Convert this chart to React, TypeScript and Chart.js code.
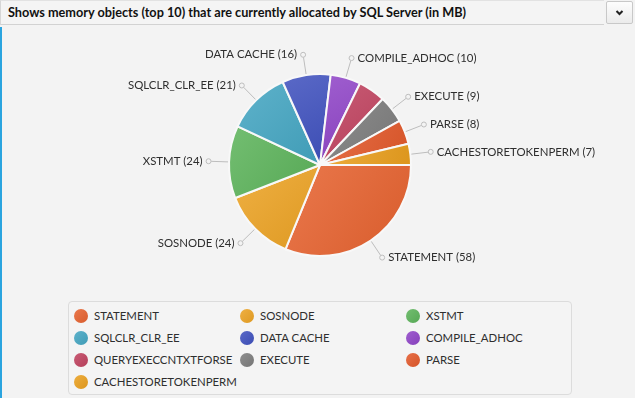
import React, { useEffect, useRef } from "react";
import { Chart, registerables } from "chart.js";

Chart.register(...registerables);

const title = "Shows memory objects (top 10) that are currently allocated by SQL Server (in MB)";
const categories = [
  "STATEMENT",
  "SOSNODE",
  "XSTMT",
  "SQLCLR_CLR_EE",
  "DATA CACHE",
  "COMPILE_ADHOC",
  "QUERYEXECCNTXTFORSE",
  "EXECUTE",
  "PARSE",
  "CACHESTORETOKENPERM",
];
const values = [58, 24, 24, 21, 16, 10, 9, 9, 8, 7];
const sliceColors = [
  "#e6622f",
  "#eca324",
  "#5cb35a",
  "#44a6c2",
  "#3f51be",
  "#8f44c7",
  "#c0425f",
  "#7c7c7c",
  "#e3592b",
  "#eaa01f",
];
const hiddenLabels = ["QUERYEXECCNTXTFORSE"];

const FONT = "Lato, 'Open Sans', 'DejaVu Sans', sans-serif";
const LABEL_SIZE = 11.4;

function mix(hex: string, target: string, t: number): string {
  const p = (h: string) => [1, 3, 5].map((k) => parseInt(h.slice(k, k + 2), 16));
  const a = p(hex);
  const b = p(target);
  const c = a.map((v, i) => Math.round(v + (b[i] - v) * t));
  return `rgb(${c[0]},${c[1]},${c[2]})`;
}

const outLabelPlugin = {
  id: "outLabels",
  beforeDatasetsDraw(chart: any) {
    const meta = chart.getDatasetMeta(0);
    const c = chart.ctx;
    meta.data.forEach((arc: any, i: number) => {
      const { x, y, startAngle, endAngle, outerRadius } = arc.getProps(
        ["x", "y", "startAngle", "endAngle", "outerRadius"],
        true
      );
      let minX = x, maxX = x, minY = y, maxY = y;
      for (let k = 0; k <= 24; k++) {
        const a = startAngle + ((endAngle - startAngle) * k) / 24;
        const px = x + outerRadius * Math.cos(a);
        const py = y + outerRadius * Math.sin(a);
        minX = Math.min(minX, px);
        maxX = Math.max(maxX, px);
        minY = Math.min(minY, py);
        maxY = Math.max(maxY, py);
      }
      const g = c.createLinearGradient(minX, minY, maxX, maxY);
      g.addColorStop(0, mix(sliceColors[i], "#ffffff", 0.14));
      g.addColorStop(1, mix(sliceColors[i], "#000000", 0.06));
      arc.options.backgroundColor = g;
    });
  },
  afterDatasetsDraw(chart: any) {
    const meta = chart.getDatasetMeta(0);
    const c = chart.ctx;
    c.save();
    meta.data.forEach((arc: any, i: number) => {
      const label = chart.data.labels[i];
      if (hiddenLabels.includes(label)) return;
      const { x, y, startAngle, endAngle, outerRadius } = arc.getProps(
        ["x", "y", "startAngle", "endAngle", "outerRadius"],
        true
      );
      const mid = (startAngle + endAngle) / 2;
      const cos = Math.cos(mid);
      const sin = Math.sin(mid);
      const r0 = outerRadius + 1;
      const r1 = outerRadius + 18;
      const r2 = outerRadius + 20.5;
      c.strokeStyle = "#bdbdbd";
      c.lineWidth = 1;
      c.beginPath();
      c.moveTo(x + r0 * cos, y + r0 * sin);
      c.lineTo(x + r1 * cos, y + r1 * sin);
      c.stroke();
      const dx = x + r2 * cos;
      const dy = y + r2 * sin;
      c.beginPath();
      c.arc(dx, dy, 2.5, 0, Math.PI * 2);
      c.fillStyle = "#f3f3f3";
      c.fill();
      c.stroke();
      c.fillStyle = "#2e2e2e";
      c.font = `${LABEL_SIZE}px ${FONT}`;
      c.textBaseline = "middle";
      const text = `${label} (${chart.data.datasets[0].data[i]})`;
      if (cos < 0) {
        c.textAlign = "right";
        c.fillText(text, dx - 6, dy);
      } else {
        c.textAlign = "left";
        c.fillText(text, dx + 6, dy);
      }
    });
    c.restore();
  },
};

export default function App() {
  const canvasRef = useRef<HTMLCanvasElement | null>(null);

  useEffect(() => {
    document.body.style.margin = "0";
    const canvas = canvasRef.current;
    if (!canvas) return;
    const chart = new Chart(canvas, {
      type: "pie",
      data: {
        labels: categories,
        datasets: [
          {
            data: values,
            backgroundColor: sliceColors,
            borderColor: "#f8f8f8",
            borderWidth: 2,
          },
        ],
      },
      options: {
        responsive: false,
        animation: false,
        rotation: 90,
        layout: { padding: { left: 228, right: 223, top: 72, bottom: 42 } },
        plugins: {
          legend: { display: false },
          tooltip: { enabled: false },
        },
      },
      plugins: [outLabelPlugin],
    });
    return () => chart.destroy();
  }, []);

  const colW = 166;
  const rowH = 22;

  return (
    <div
      style={{
        position: "fixed",
        left: 0,
        top: 0,
        width: 635,
        height: 398,
        background: "#f3f3f3",
        overflow: "hidden",
        fontFamily: FONT,
      }}
    >
      <div
        style={{
          position: "absolute",
          left: 0,
          top: 0,
          width: 604,
          height: 25,
          borderTop: "1px solid #e2e2e2",
          borderBottom: "1px solid #d2d2d2",
          borderLeft: "1px solid #d6d6d6",
          boxSizing: "border-box",
          background: "#f4f4f4",
        }}
      >
        <div
          style={{
            position: "absolute",
            left: 7,
            top: 3,
            fontSize: 12.7,
            fontWeight: 700,
            color: "#111",
            whiteSpace: "nowrap",
          }}
        >
          {title}
        </div>
      </div>
      <div
        style={{
          position: "absolute",
          left: 606,
          top: 1,
          width: 27,
          height: 23,
          boxSizing: "border-box",
          border: "1px solid #c8c8c8",
          borderRadius: 2,
          background: "linear-gradient(#fdfdfd, #ebebeb)",
        }}
      >
        <svg width="25" height="21" style={{ position: "absolute", left: 0, top: 0 }}>
          <path d="M9.5 9 L12.5 12 L15.5 9" stroke="#222" strokeWidth="2" fill="none" />
        </svg>
      </div>
      <div
        style={{
          position: "absolute",
          left: 0,
          top: 27,
          width: 2,
          height: 371,
          background: "#2aa4df",
        }}
      />
      <canvas
        ref={canvasRef}
        width={635}
        height={300}
        style={{ position: "absolute", left: 0, top: 0, width: 635, height: 300 }}
      />
      <div
        style={{
          position: "absolute",
          left: 68,
          top: 301,
          width: 504,
          height: 94,
          boxSizing: "border-box",
          border: "1px solid #dcdcdc",
          borderRadius: 4,
          background: "#f4f4f4",
        }}
      >
        {categories.map((name, i) => {
          const col = i % 3;
          const row = Math.floor(i / 3);
          const cx = 12 + col * colW;
          const cy = 14 + row * rowH;
          return (
            <React.Fragment key={name}>
              <div
                style={{
                  position: "absolute",
                  left: cx - 7,
                  top: cy - 7,
                  width: 14,
                  height: 14,
                  borderRadius: 7,
                  background: `linear-gradient(135deg, ${mix(sliceColors[i], "#ffffff", 0.14)}, ${mix(
                    sliceColors[i],
                    "#000000",
                    0.06
                  )})`,
                }}
              />
              <div
                style={{
                  position: "absolute",
                  left: cx + 13,
                  top: cy - 8,
                  height: 16,
                  lineHeight: "16px",
                  fontSize: LABEL_SIZE,
                  color: "#2e2e2e",
                  whiteSpace: "nowrap",
                }}
              >
                {name}
              </div>
            </React.Fragment>
          );
        })}
      </div>
    </div>
  );
}
